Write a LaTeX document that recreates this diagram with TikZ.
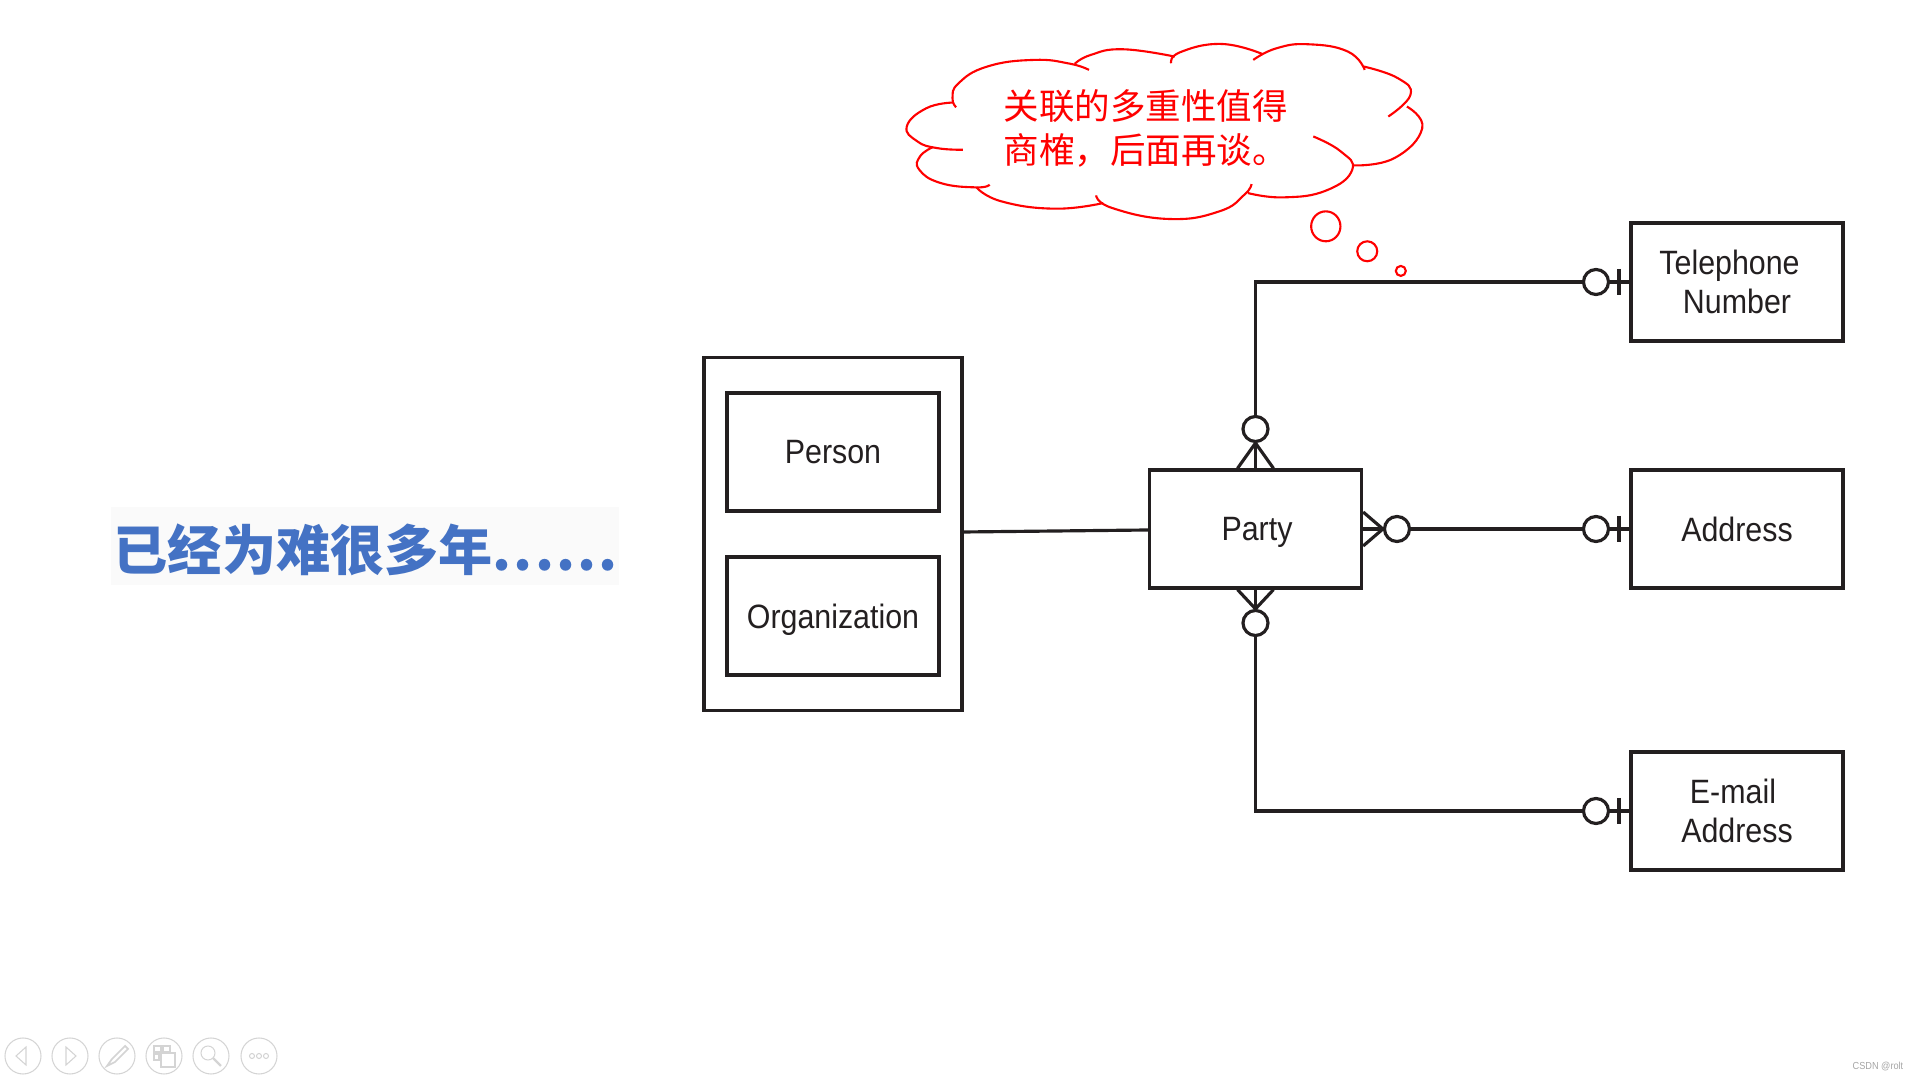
\documentclass[tikz,border=0pt]{standalone}
\usepackage{fontspec}
\setmainfont[FakeStretch=0.9]{Liberation Sans}
\newfontfamily\cjkfont{Noto Sans CJK SC}
\usepackage{tikz}
\usetikzlibrary{positioning, calc}
\definecolor{lineblack}{RGB}{35,31,32}
\definecolor{cloudred}{RGB}{255,0,0}
\definecolor{titleblue}{RGB}{68,114,196}
\definecolor{titlebg}{RGB}{250,250,250}
\definecolor{toolgray}{RGB}{212,212,212}
\definecolor{markgray}{RGB}{165,165,165}
\tikzset{
    entity/.style={draw=lineblack, line width=0.9pt, rectangle, inner sep=0pt, align=center, text=lineblack, font=\fontsize{9.6}{10.9}\selectfont},
    ring/.style={draw=lineblack, line width=0.9pt, circle, inner sep=0pt, minimum size=0.25cm},
    relation/.style={draw=lineblack, line width=0.9pt},
    cloudline/.style={draw=cloudred, line width=0.6pt},
    toolbtn/.style={draw=toolgray, line width=0.3pt, circle, inner sep=0pt, minimum size=0.36cm},
    toolicon/.style={draw=toolgray, line width=0.3pt}
}

\begin{document}
\begin{tikzpicture}[x=0.01cm, y=-0.01cm]
    \useasboundingbox (0,0) rectangle (1920,1080);

    % Title
    \node[fill=titlebg, minimum width=5.08cm, minimum height=0.78cm, inner sep=0pt] (titlebox) at (365,546) {};
    \node[anchor=west, inner sep=0pt, text=titleblue, font=\cjkfont\bfseries\fontsize{15.4}{16}\selectfont] (title) at (113,550) {已经为难很多年{\addfontfeature{LetterSpace=4}......}};

    % Entities
    \node[entity, minimum width=2.58cm, minimum height=3.52cm] (supertype) at (833,534) {};
    \node[entity, minimum width=2.12cm, minimum height=1.18cm] (person) at (833,452) {Person};
    \node[entity, minimum width=2.12cm, minimum height=1.18cm, text depth=0pt] (organization) at (833,616) {Organization};
    \node[entity, minimum width=2.12cm, minimum height=1.18cm, text depth=0pt] (party) at (1255.5,529) {Party\kern -0.03cm};
    \node[entity, minimum width=2.12cm, minimum height=1.18cm] (telephone) at (1737,282) {Telephone\kern 0.15cm\\Number};
    \node[entity, minimum width=2.12cm, minimum height=1.18cm] (address) at (1737,529) {Address};
    \node[entity, minimum width=2.12cm, minimum height=1.18cm] (email) at (1737,811) {E-mail\kern 0.08cm\\Address};

    % Rings
    \node[ring] (ringtop) at (1255.5,429) {};
    \node[ring] (ringbottom) at (1255.5,623) {};
    \node[ring] (ringright) at (1397,529) {};
    \node[ring] (ringtel) at (1596,282) {};
    \node[ring] (ringaddr) at (1596,529) {};
    \node[ring] (ringmail) at (1596,811) {};

    % Relations
    \draw[relation] ($(supertype.east)+(0,-2)$) -- ($(party.west)+(0,1)$);
    \draw[relation] (ringtop) |- (ringtel);
    \draw[relation] (ringright) -- (ringaddr);
    \draw[relation] (ringbottom) |- (ringmail);
    \draw[relation] (ringtel) -- (telephone.west |- ringtel);
    \draw[relation] (ringaddr) -- (address.west);
    \draw[relation] (ringmail) -- (email.west |- ringmail);

    % Crow feet
    \foreach \dx in {-18,0,18} {
        \draw[relation] (ringtop.south) -- ($(party.north)+(\dx,0)$);
        \draw[relation] (ringbottom.north) -- ($(party.south)+(\dx,0)$);
    }
    \foreach \dy in {-17,0,17} {
        \draw[relation] (ringright.west) -- ($(party.east)+(0,\dy)$);
    }

    % One-bars
    \foreach \r in {ringtel, ringaddr, ringmail} {
        \draw[relation] ($(\r.center)+(23,-13)$) -- ($(\r.center)+(23,13)$);
    }

    % Cloud
    \begin{scope}[shift={(880,20)}, x=0.00357cm, y=-0.00333cm]
        \draw[cloudline] plot[smooth, tension=0.8] coordinates {(585,150) (530,131) (430,120) (300,140) (220,190) (203,235) (213,262)};
        \draw[cloudline] plot[smooth, tension=0.8] coordinates {(205,248) (130,265) (75,320) (105,365) (160,385) (232,390)};
        \draw[cloudline] plot[smooth, tension=0.8] coordinates {(148,382) (112,410) (110,450) (170,490) (270,503) (307,495)};
        \draw[cloudline] plot[smooth, tension=0.8] coordinates {(270,503) (340,545) (490,567) (625,550)};
        \draw[cloudline] plot[smooth, tension=0.8] coordinates {(605,527) (650,565) (810,598) (950,575) (1020,525) (1040,493)};
        \draw[cloudline] plot[smooth, tension=0.8] coordinates {(1030,520) (1130,533) (1250,512) (1322,450) (1290,395) (1213,350)};
        \draw[cloudline] plot[smooth, tension=0.8] coordinates {(1325,437) (1440,415) (1518,325) (1475,260)};
        \draw[cloudline] plot[smooth, tension=0.8] coordinates {(1423,290) (1485,225) (1450,175) (1355,140)};
        \draw[cloudline] plot[smooth, tension=0.8] coordinates {(1045,120) (1110,85) (1200,73) (1310,95) (1357,150)};
        \draw[cloudline] plot[smooth, tension=0.8] coordinates {(815,130) (840,97) (955,72) (1070,102)};
        \draw[cloudline] plot[smooth, tension=0.8] coordinates {(545,132) (590,105) (680,88) (825,110)};
        \draw[cloudline] (1248,620) ellipse (41 and 45);
        \draw[cloudline] (1364,695) ellipse (28 and 30);
        \draw[cloudline] (1458,754) ellipse (14 and 15);
    \end{scope}
    \node[anchor=west, inner sep=0pt, align=left, text=cloudred, font=\cjkfont\fontsize{10.1}{12.5}\selectfont] (cloudtext) at (1003,128) {关联的多重性值得\\商榷，后面再谈。};

    % Toolbar
    \foreach \i/\xpos in {0/23, 1/70, 2/117, 3/164, 4/211, 5/259} {
        \node[toolbtn] (btn\i) at (\xpos,1056) {};
    }
    \draw[toolicon] ($(btn0)+(3,-9)$) -- ($(btn0)+(-7,0)$) -- ($(btn0)+(3,9)$) -- cycle;
    \draw[toolicon] ($(btn1)+(-4,-9)$) -- ($(btn1)+(6,0)$) -- ($(btn1)+(-4,9)$) -- cycle;
    \draw[toolicon, line width=0.5pt] ($(btn2)+(-10,10)$) -- ($(btn2)+(-5,3)$) -- ($(btn2)+(8,-10)$) -- ($(btn2)+(11,-7)$) -- ($(btn2)+(-2,6)$) -- cycle;
    \draw[toolicon] ($(btn3)+(-10,-10)$) rectangle ++(7,6);
    \draw[toolicon] ($(btn3)+(-1,-10)$) rectangle ++(7,6);
    \draw[toolicon] ($(btn3)+(-10,-2)$) rectangle ++(5,6);
    \draw[toolicon, line width=0.5pt] ($(btn3)+(-3,-3)$) rectangle ++(14,14);
    \draw[toolicon] ($(btn4)+(-3,-3)$) circle (7);
    \draw[toolicon, line width=0.7pt] ($(btn4)+(2,2)$) -- ($(btn4)+(10,10)$);
    \foreach \dx in {-7,0,7} {
        \draw[toolicon] ($(btn5)+(\dx,0)$) circle (2.5);
    }

    % Watermark
    \node[anchor=east, inner sep=0pt, text=markgray, font=\fontsize{2.9}{3.5}\selectfont] (mark) at (1904,1067) {CSDN @rolt};
\end{tikzpicture}
\end{document}
